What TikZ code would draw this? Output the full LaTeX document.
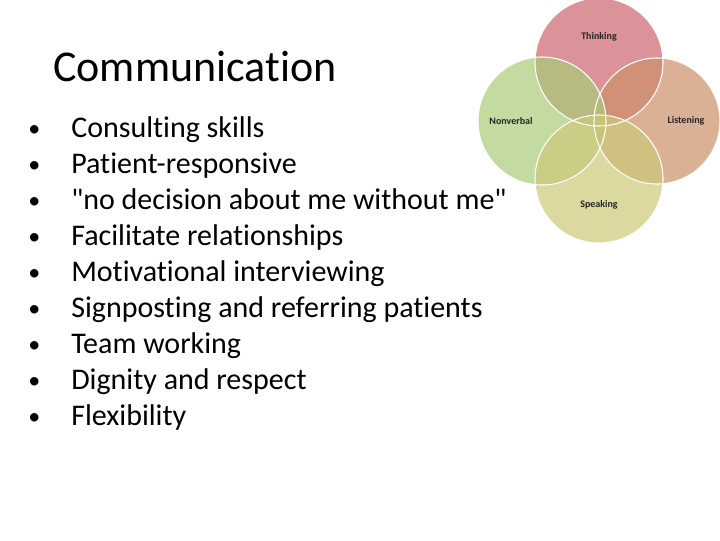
\documentclass[tikz,border=0pt]{standalone}
\usepackage{fontspec}
\setmainfont{Carlito}[Ligatures=ResetAll,RawFeature=-liga]
\begin{document}
\begin{tikzpicture}[x=0.75pt,y=-0.75pt,
 circ/.style={fill opacity=0.7},
 lab/.style={font=\fontsize{7.5}{8}\selectfont\bfseries,text=black!85},
 bul/.style={anchor=base west,font=\fontsize{22.5}{24}\selectfont,inner sep=0pt}]
\useasboundingbox (0,0) rectangle (720,540);
\fill[white] (0,0) rectangle (720,540);
\fill[circ,fill={rgb,255:red,205;green,100;blue,110}] (599,62) circle (64);
\fill[circ,fill={rgb,255:red,205;green,145;blue,105}] (657,121) circle (63);
\fill[circ,fill={rgb,255:red,170;green,205;blue,120}] (542,121) circle (64);
\fill[circ,fill={rgb,255:red,205;green,200;blue,120}] (599,179) circle (64);
\draw[white,line width=0.8pt] (599,62) circle (64) (657,121) circle (63) (542,121) circle (64) (599,179) circle (64);
\node[lab] (t) at (599,37) {Thinking};
\node[lab] (n) at (511,121) {Nonverbal};
\node[lab] (l) at (686,121) {Listening};
\node[lab] (s) at (599,205) {Speaking};
\node[anchor=west,inner sep=0pt,font=\fontsize{33}{36}\selectfont] (title) at (53,67) {Communication};
\foreach \t [count=\i] in {Consulting skills,Patient-responsive,\textquotedbl no decision about me without me\textquotedbl,Facilitate relationships,Motivational interviewing,Signposting and referring patients,Team working,Dignity and respect,Flexibility}{
 \node[bul] (b\i) at (71,{137+36*(\i-1)}) {\t};
 \node[bul,font=\fontsize{18}{20}\selectfont] (d\i) at (28,{136+36*(\i-1)}) {•};
}
\end{tikzpicture}
\end{document}
